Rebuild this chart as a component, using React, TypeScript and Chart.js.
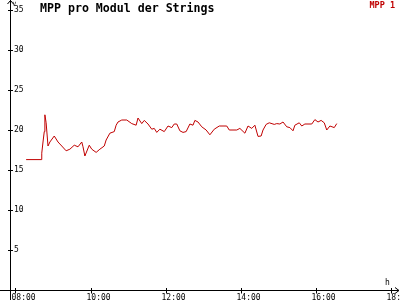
import React, { useEffect, useRef } from "react";
import { Chart, registerables } from "chart.js";
Chart.register(...registerables);

const chartTitle = "MPP pro Modul der Strings";
const seriesName = "MPP 1";
const yUnit = "V";
const xUnit = "h";
const xTickHours = [8, 10, 12, 14, 16, 18];
const yTickValues = [5, 10, 15, 20, 25, 30, 35];
const times = [
  "08:17", "08:41", "08:42", "08:44", "08:46", "08:47", "08:49", "08:52", "08:55", "09:02",
  "09:08", "09:14", "09:21", "09:27", "09:34", "09:40", "09:46", "09:48", "09:51", "09:58",
  "10:02", "10:09", "10:15", "10:22", "10:25", "10:31", "10:38", "10:41", "10:44", "10:50",
  "10:58", "11:06", "11:13", "11:16", "11:22", "11:26", "11:32", "11:38", "11:42", "11:46",
  "11:51", "11:58", "12:04", "12:10", "12:14", "12:18", "12:23", "12:28", "12:33", "12:39",
  "12:44", "12:47", "12:52", "12:58", "13:05", "13:11", "13:18", "13:26", "13:38", "13:42",
  "13:54", "13:59", "14:07", "14:12", "14:18", "14:23", "14:28", "14:33", "14:36", "14:41",
  "14:46", "14:54", "14:58", "15:03", "15:08", "15:14", "15:19", "15:24", "15:27", "15:34",
  "15:38", "15:43", "15:54", "15:59", "16:04", "16:09", "16:14", "16:18", "16:23", "16:30",
  "16:34",
];
const mppValues = [
  16.3, 16.3, 17.1, 18.5, 19.8, 21.9, 20.9, 18.0, 18.5, 19.25,
  18.5, 18.0, 17.4, 17.6, 18.1, 17.9, 18.5, 17.9, 16.75, 18.1,
  17.6, 17.2, 17.6, 18.0, 18.75, 19.6, 19.8, 20.6, 21.0, 21.25,
  21.25, 20.8, 20.6, 21.5, 20.8, 21.2, 20.75, 20.1, 20.2, 19.7,
  20.1, 19.8, 20.5, 20.3, 20.75, 20.75, 19.9, 19.7, 19.8, 20.75,
  20.6, 21.2, 21.0, 20.4, 20.0, 19.4, 20.1, 20.5, 20.5, 20.0,
  20.0, 20.2, 19.6, 20.5, 20.2, 20.6, 19.2, 19.25, 20.0, 20.7,
  20.9, 20.7, 20.8, 20.75, 21.0, 20.4, 20.3, 19.9, 20.6, 20.9,
  20.5, 20.75, 20.75, 21.3, 21.0, 21.2, 20.9, 20.0, 20.5, 20.3,
  20.8,
];

const LINE_COLOR = "#c00000";
const MONO = "'DejaVu Sans Mono', 'Liberation Mono', monospace";

function toHours(s: string): number {
  const [h, m] = s.split(":").map(Number);
  return h + m / 60;
}

const decorPlugin = {
  id: "decor",
  afterDraw(chart: any) {
    const ctx = chart.ctx as CanvasRenderingContext2D;
    const xs = chart.scales.x;
    const ys = chart.scales.y;
    const ax = Math.round(xs.left) + 0.5;
    const ay = Math.round(ys.bottom) + 0.5;
    ctx.save();
    ctx.strokeStyle = "#000";
    ctx.lineWidth = 1;
    ctx.beginPath();
    ctx.moveTo(ax, 0);
    ctx.lineTo(ax, chart.height);
    ctx.moveTo(0, ay);
    ctx.lineTo(chart.width - 1, ay);
    ctx.moveTo(ax - 3, 4);
    ctx.lineTo(ax, 0.5);
    ctx.lineTo(ax + 3, 4);
    ctx.moveTo(chart.width - 5, ay - 3);
    ctx.lineTo(chart.width - 1, ay);
    ctx.lineTo(chart.width - 5, ay + 3);
    yTickValues.forEach((v) => {
      const p = Math.round(ys.getPixelForValue(v)) + 0.5;
      ctx.moveTo(ax - 2.5, p);
      ctx.lineTo(ax + 2.5, p);
    });
    xTickHours.forEach((v) => {
      const p = Math.round(xs.getPixelForValue(v)) + 0.5;
      ctx.moveTo(p, ay - 2.5);
      ctx.lineTo(p, ay + 3);
    });
    ctx.stroke();

    ctx.fillStyle = "#000";
    ctx.textBaseline = "alphabetic";
    ctx.textAlign = "left";
    ctx.font = `bold 11.6px ${MONO}`;
    ctx.fillText(chartTitle, 40, 12);
    ctx.font = `6px ${MONO}`;
    ctx.fillText(yUnit, ax + 2, 6);
    ctx.font = `8px ${MONO}`;
    ctx.fillText(xUnit, 385, 285);
    ctx.fillStyle = LINE_COLOR;
    ctx.textAlign = "right";
    ctx.font = `bold 8.5px ${MONO}`;
    ctx.fillText(seriesName, 395, 8);
    ctx.restore();
  },
};

export default function App() {
  const ref = useRef<HTMLCanvasElement | null>(null);
  useEffect(() => {
    document.body.style.margin = "0";
    const canvas = ref.current;
    if (!canvas) return;
    const data = times.map((t, i) => ({ x: toHours(t), y: mppValues[i] }));
    const chart = new Chart(canvas, {
      type: "line",
      data: {
        datasets: [
          {
            label: seriesName,
            data,
            borderColor: LINE_COLOR,
            borderWidth: 1,
            pointRadius: 0,
            tension: 0,
            fill: false,
          },
        ],
      },
      options: {
        responsive: false,
        animation: false,
        layout: { padding: 0 },
        plugins: { legend: { display: false }, title: { display: false }, tooltip: { enabled: false } },
        scales: {
          x: {
            type: "linear",
            min: 8 - 5.5 / 37.5,
            max: 8 + 384.5 / 37.5,
            grid: { display: false },
            border: { display: false },
            ticks: {
              align: "start",
              labelOffset: -4,
              padding: -5,
              maxRotation: 0,
              autoSkip: false,
              color: "#000",
              font: { family: MONO, size: 8 },
              callback: (v: any) => String(v).padStart(2, "0") + ":00",
            },
            afterBuildTicks: (s: any) => {
              s.ticks = xTickHours.map((v) => ({ value: v }));
            },
            afterFit: (s: any) => {
              s.height = 10;
              s.paddingLeft = 0;
              s.paddingRight = 0;
            },
          },
          y: {
            type: "linear",
            min: 0,
            max: 36.25,
            grid: { display: false },
            border: { display: false },
            ticks: {
              mirror: true,
              padding: 4,
              color: "#000",
              font: { family: MONO, size: 8 },
            },
            afterBuildTicks: (s: any) => {
              s.ticks = yTickValues.map((v) => ({ value: v }));
            },
            afterFit: (s: any) => {
              s.width = 10;
              s.paddingTop = 0;
              s.paddingBottom = 0;
            },
          },
        },
      },
      plugins: [decorPlugin],
    });
    return () => chart.destroy();
  }, []);
  return (
    <canvas
      ref={ref}
      width={400}
      height={300}
      style={{ display: "block", width: 400, height: 300, background: "#fff" }}
    />
  );
}
